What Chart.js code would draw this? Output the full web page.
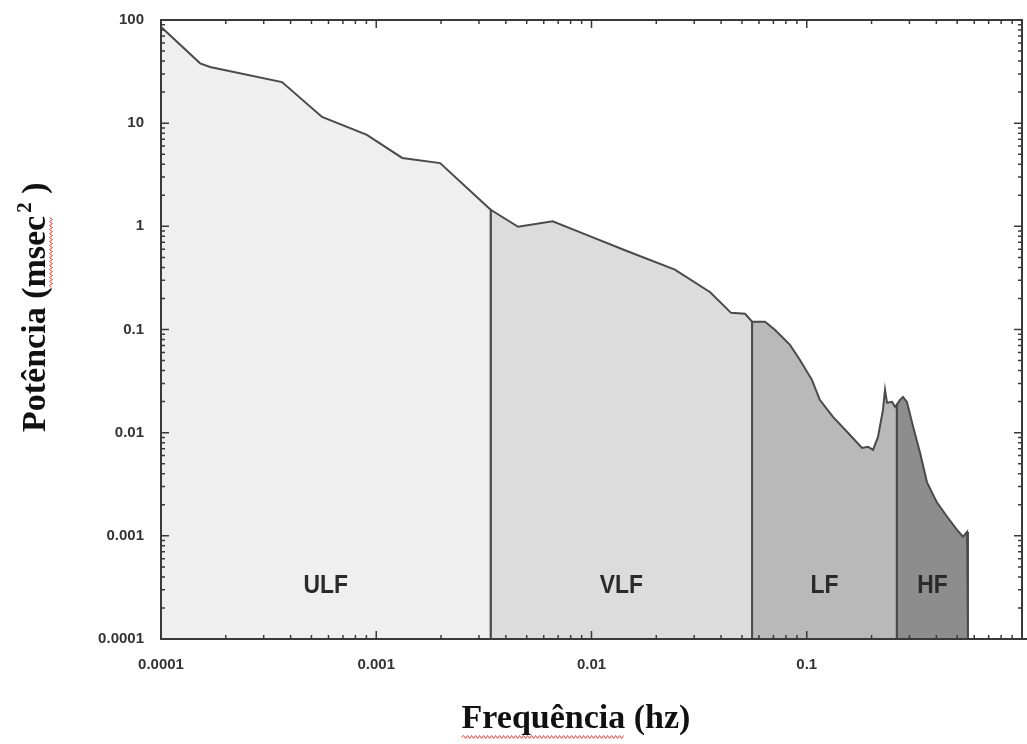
<!DOCTYPE html>
<html>
<head>
<meta charset="utf-8">
<title>Potência x Frequência</title>
<script src="https://cdn.jsdelivr.net/npm/chart.js@4.4.1/dist/chart.umd.min.js"></script>
<style>
body{margin:0;background:#fff;}
</style>
</head>
<body>
<canvas id="chart" width="1027" height="744"></canvas>
<script>
// spectrum (hz, msec^2)
let freq=[0.0001,0.000152,0.000169,0.000365,0.00056,0.000905,0.00132,0.00198,0.0034,
    0.00456,0.0066,0.0093,0.0145,0.0244,0.0356,0.0445,0.0517,0.0557,
    0.064,0.0713,0.0836,0.093,0.1057,0.115,0.1324,0.1538,0.1806,0.1926,0.2032,0.2143,0.226,0.231,0.236,0.249,0.257,0.262,
    0.271,0.28,0.292,0.312,0.336,0.362,0.403,0.449,0.499,0.532,0.556,0.561];
let power=[86,38,35,25,11.5,7.7,4.6,4.1,1.45,
    0.99,1.12,0.84,0.58,0.38,0.23,0.145,0.142,0.119,
    0.119,0.099,0.071,0.0507,0.0325,0.0208,0.0142,0.0102,0.0071,0.0073,0.0068,0.0091,0.0166,0.026,0.0195,0.0199,0.0178,0.0186,
    0.0208,0.0222,0.0199,0.0114,0.0064,0.0033,0.0021,0.00153,0.00114,0.00098,0.00109,0.00105];

let bandEdges=[0.0001,0.0034,0.0557,0.262,0.561];
let bandNames=["ULF","VLF","LF","HF"];

let xTicks=[0.0001,0.001,0.01,0.1];
let xTickLabels=["0.0001","0.001","0.01","0.1"];
let yTicks=[0.0001,0.001,0.01,0.1,1,10,100];
let yTickLabels=["0.0001","0.001","0.01","0.1","1","10","100"];

let bandColors=["#efefef","#dcdcdc","#b9b9b9","#8d8d8d"];
let xMin=0.0001, xMax=1, yMin=0.0001, yMax=100;

function bandData(i){
    let lo=bandEdges[i], hi=bandEdges[i+1];
    let pts=[{x:lo,y:yMin}];
    for(let k=0;k<freq.length;k++){
        if(freq[k]>=lo && freq[k]<=hi){
            pts.push({x:freq[k],y:power[k]});
        }
    }
    pts.push({x:hi,y:yMin});
    return pts;
}

function squiggle(ctx,x0,x1,y){
    ctx.save();
    ctx.beginPath();
    ctx.moveTo(x0,y);
    let up=true;
    for(let x=x0+2;x<=x1;x+=2){
        ctx.lineTo(x,y+(up?-1.5:1.5));
        up=!up;
    }
    ctx.strokeStyle="#e0443a";
    ctx.lineWidth=1;
    ctx.stroke();
    ctx.restore();
}

let decor={
    id:"decor",
    afterDatasetsDraw(chart){
        let ctx=chart.ctx, a=chart.chartArea;
        let xs=chart.scales.x, ys=chart.scales.y;
        ctx.save();
        ctx.strokeStyle="#3a3a3a";
        ctx.lineWidth=1.5;
        ctx.beginPath();
        for(let e=-4;e<0;e++){
            for(let k=1;k<10;k++){
                let px=xs.getPixelForValue(k*Math.pow(10,e));
                let len=k===1?8:4;
                ctx.moveTo(px,a.bottom);ctx.lineTo(px,a.bottom-len);
                ctx.moveTo(px,a.top);ctx.lineTo(px,a.top+len);
            }
        }
        for(let e=-4;e<2;e++){
            for(let k=1;k<10;k++){
                let py=ys.getPixelForValue(k*Math.pow(10,e));
                let len=k===1?8:4;
                ctx.moveTo(a.left,py);ctx.lineTo(a.left+len,py);
                ctx.moveTo(a.right,py);ctx.lineTo(a.right-len,py);
            }
        }
        ctx.stroke();
        ctx.lineWidth=2;
        ctx.strokeRect(a.left,a.top,a.right-a.left,a.bottom-a.top);
        ctx.beginPath();
        ctx.moveTo(a.right,a.bottom);ctx.lineTo(chart.width,a.bottom);
        ctx.stroke();

        // band names, a little condensed like the original
        ctx.fillStyle="#2a2a2a";
        ctx.font="bold 26px 'Liberation Sans'";
        ctx.textAlign="center";
        ctx.textBaseline="middle";
        for(let i=0;i<bandNames.length;i++){
            let x=(xs.getPixelForValue(bandEdges[i])+xs.getPixelForValue(bandEdges[i+1]))/2;
            ctx.save();
            ctx.translate(x,a.bottom-53);
            ctx.scale(0.88,1);
            ctx.fillText(bandNames[i],0,0);
            ctx.restore();
        }
        ctx.restore();
    },
    afterDraw(chart){
        let ctx=chart.ctx;
        ctx.save();
        ctx.fillStyle="#111";
        ctx.textBaseline="alphabetic";

        // x title
        ctx.font="bold 34px 'Liberation Serif'";
        ctx.textAlign="center";
        let xt="Frequência (hz)";
        ctx.fillText(xt,576,728);
        let xl=576-ctx.measureText(xt).width/2;
        squiggle(ctx,xl,xl+ctx.measureText("Frequência").width,737);

        // y title
        ctx.translate(45,432);
        ctx.rotate(-Math.PI/2);
        ctx.textAlign="left";
        let t1="Potência (msec";
        ctx.fillText(t1,0,0);
        let w1=ctx.measureText(t1).width;
        let ws=ctx.measureText("Potência (").width;
        squiggle(ctx,ws,w1,6);
        ctx.font="bold 21px 'Liberation Serif'";
        ctx.fillText("2",w1+3,-14);
        let w2=ctx.measureText("2").width;
        ctx.font="bold 34px 'Liberation Serif'";
        ctx.fillText(" )",w1+3+w2,0);
        ctx.restore();
    }
};

let chart;

window.onload=function(){
    initChart();
}

function initChart(){
    let datasets=[];
    for(let i=0;i<bandNames.length;i++){
        datasets.push({
            label:bandNames[i],
            data:bandData(i),
            borderColor:"#4a4a4a",
            borderWidth:2,
            backgroundColor:bandColors[i],
            fill:"start",
            pointRadius:0,
            tension:0
        });
    }
    let tickFont={family:"Liberation Sans",size:15,weight:"bold"};
    chart=new Chart(document.getElementById("chart"),{
        type:"line",
        data:{datasets:datasets},
        plugins:[decor],
        options:{
            responsive:false,
            animation:false,
            layout:{padding:{top:20,right:5,left:0,bottom:0}},
            plugins:{legend:{display:false},tooltip:{enabled:false}},
            scales:{
                x:{
                    type:"logarithmic",
                    min:xMin,max:xMax,
                    afterBuildTicks:function(s){s.ticks=xTicks.map(v=>({value:v}));},
                    afterFit:function(s){s.height=105;},
                    grid:{display:false},
                    border:{display:false},
                    ticks:{autoSkip:false,maxRotation:0,padding:9,color:"#333",font:tickFont,
                        callback:function(v,i){return xTickLabels[i];}}
                },
                y:{
                    type:"logarithmic",
                    min:yMin,max:yMax,
                    afterBuildTicks:function(s){s.ticks=yTicks.map(v=>({value:v}));},
                    afterFit:function(s){s.width=161;},
                    grid:{display:false},
                    border:{display:false},
                    ticks:{autoSkip:false,padding:9,color:"#333",font:tickFont,
                        callback:function(v,i){return yTickLabels[i];}}
                }
            }
        }
    });
}
</script>
</body>
</html>
